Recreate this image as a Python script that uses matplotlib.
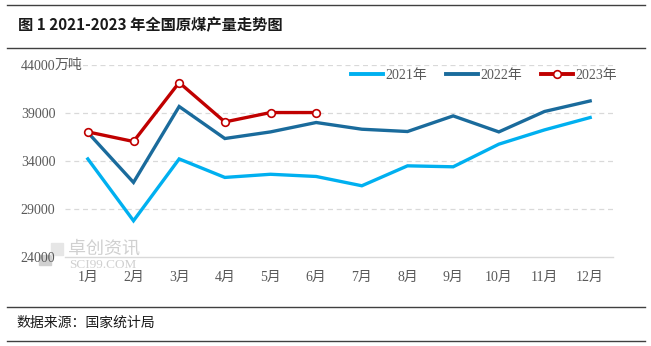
import matplotlib
matplotlib.use("Agg")
import matplotlib.pyplot as plt
from matplotlib.lines import Line2D
from matplotlib.patches import Rectangle

plt.rcParams['font.family'] = ['Liberation Serif', 'Noto Sans CJK SC', 'DejaVu Sans']

months = ['1月', '2月', '3月', '4月', '5月', '6月', '7月', '8月', '9月', '10月', '11月', '12月']
y2021 = [34200, 27750, 34200, 32270, 32600, 32370, 31400, 33480, 33380, 35740, 37230, 38520]
y2022 = [36960, 31750, 39670, 36330, 37020, 38000, 37300, 37060, 38690, 37020, 39150, 40250]
y2023 = [37020, 36020, 42170, 38060, 39040, 39040]
yticks = [24000, 29000, 34000, 39000, 44000]

c2021 = '#00B0F0'
c2022 = '#1A6B9C'
c2023 = '#C00000'
gray = '#595959'

fig = plt.figure(figsize=(6.51, 3.46), dpi=100)
ax = fig.add_axes([65 / 651, 1 - 256.7 / 346, (613 - 65) / 651, (256.7 - 65) / 346])

x = list(range(len(months)))
ax.plot(x, y2021, color=c2021, lw=2.4, solid_joinstyle='miter', zorder=3)
ax.plot(x, y2022, color=c2022, lw=2.4, solid_joinstyle='miter', zorder=4)
ax.plot(x[:len(y2023)], y2023, color=c2023, lw=2.4, marker='o', ms=5.5,
        mfc='white', mec=c2023, mew=1.2, zorder=5)

ax.set_xlim(-0.5, 11.5)
ax.set_ylim(24000, 44000)
ax.set_yticks(yticks)
ax.set_yticklabels([str(v) for v in yticks])
ax.set_xticks(x)
ax.set_xticklabels(months)
ax.tick_params(axis='both', length=0, colors=gray, labelsize=10)
ax.tick_params(axis='y', pad=7)
ax.tick_params(axis='x', pad=10)
for v in yticks[1:]:
    ax.axhline(v, color='#D9D9D9', lw=0.9, ls=(0, (4, 3)), zorder=1)
for s in ['top', 'right', 'left']:
    ax.spines[s].set_visible(False)
ax.spines['bottom'].set_color('#D9D9D9')
ax.spines['bottom'].set_linewidth(1.0)

ax.annotate('万吨', xy=(0, 44000), xycoords=('axes fraction', 'data'),
            xytext=(-7.5, 0), textcoords='offset points', ha='left', va='center',
            color=gray, fontsize=10)

handles = [Line2D([], [], color=c2021, lw=2.8),
           Line2D([], [], color=c2022, lw=2.8),
           Line2D([], [], color=c2023, lw=2.8, marker='o', ms=5.5, mfc='white', mec=c2023, mew=1.2)]
ax.legend(handles, ['2021年', '2022年', '2023年'], loc='center', bbox_to_anchor=(484 / 651, 1 - 75 / 346),
          bbox_transform=fig.transFigure, ncol=3, frameon=False, handlelength=2.3, handletextpad=0.15,
          columnspacing=1.4, prop={'size': 10}, labelcolor=gray)

# watermark
wm = '#D0D0D0'
fig.add_artist(Rectangle((39 / 651, 1 - 265 / 346), 12 / 651, 10 / 346, transform=fig.transFigure,
                         color=wm, zorder=0))
fig.add_artist(Rectangle((51 / 651, 1 - 255 / 346), 12 / 651, 12 / 346, transform=fig.transFigure,
                         color='#E6E6E6', zorder=0))
fig.text(68 / 651, 1 - 248.5 / 346, '卓创资讯', color=wm, fontsize=13, va='center', ha='left',
         family=['Noto Sans CJK SC'], zorder=0)
fig.text(69 / 651, 1 - 265 / 346, 'SCI99.COM', color=wm, fontsize=9.5, va='center', ha='left', zorder=0)

# title and source
line_kw = dict(color='#404040', lw=1.0)
fig.add_artist(Line2D([7 / 651, 645 / 651], [1 - 4.5 / 346, 1 - 4.5 / 346], transform=fig.transFigure, **line_kw))
fig.add_artist(Line2D([7 / 651, 645 / 651], [1 - 48 / 346, 1 - 48 / 346], transform=fig.transFigure, **line_kw))
fig.text(18 / 651, 1 - 25 / 346, '图 1 2021-2023 年全国原煤产量走势图', fontsize=11, fontweight='bold',
         va='center', ha='left', color='#1A1A1A', family=['Noto Sans CJK SC'])
fig.add_artist(Line2D([7 / 651, 645 / 651], [1 - 306.7 / 346, 1 - 306.7 / 346], transform=fig.transFigure, **line_kw))
fig.add_artist(Line2D([7 / 651, 645 / 651], [1 - 340.7 / 346, 1 - 340.7 / 346], transform=fig.transFigure, **line_kw))
fig.text(16 / 651, 1 - 323 / 346, '数据来源：国家统计局', fontsize=10, va='center', ha='left',
         color='#1A1A1A', family=['Noto Sans CJK SC'])

fig.savefig('out.png', dpi=100)
